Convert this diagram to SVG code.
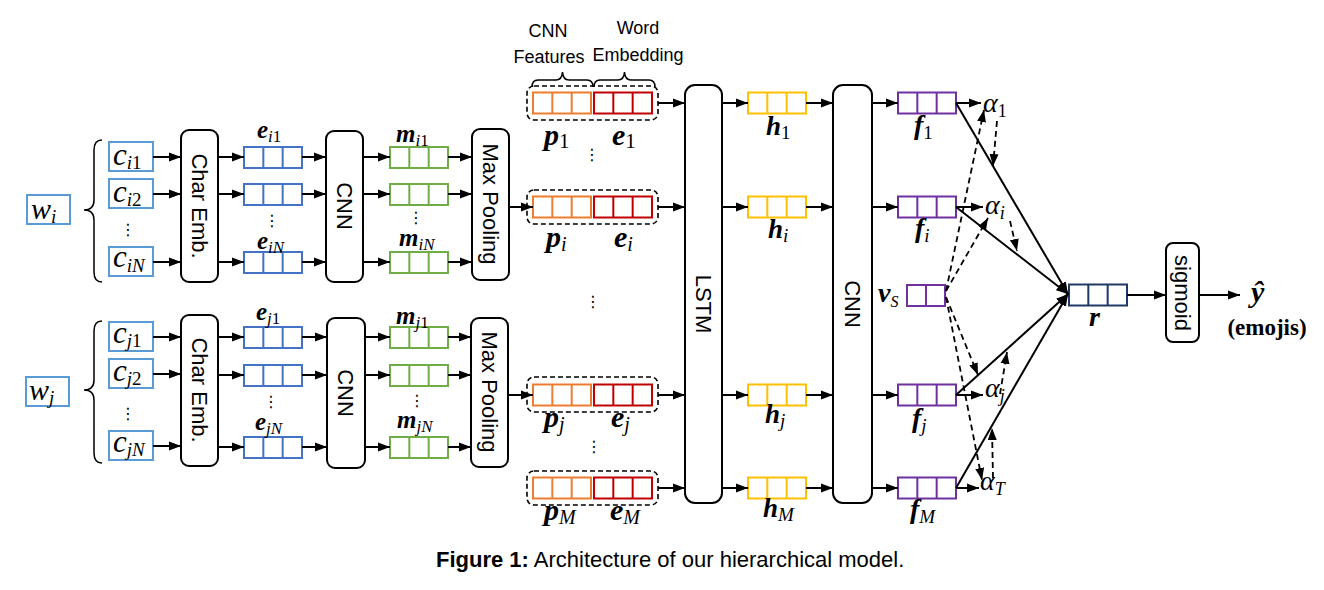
<svg xmlns="http://www.w3.org/2000/svg" width="1324" height="590" viewBox="0 0 1324 590">
<defs>
<style>
.box{fill:#fff;stroke:#000;stroke-width:2}
.cb{fill:#fff;stroke:#5B9BD5;stroke-width:2}
.v{fill:#fff;stroke-width:2}
.blue{stroke:#4472C4}
.green{stroke:#70AD47}
.orange{stroke:#ED7D31}
.red{stroke:#C00000}
.yellow{stroke:#FFC000}
.purple{stroke:#7030A0}
.navy{stroke:#1F3864}
.dbox{fill:none;stroke:#000;stroke-width:1.6;stroke-dasharray:5 3}
.lab{font-family:"Liberation Sans",Arial,sans-serif;font-size:22px;fill:#000;text-anchor:middle}
.cap{font-family:"Liberation Sans",Arial,sans-serif;font-size:22px;fill:#000}
.note{font-family:"Liberation Sans",Arial,sans-serif;font-size:18px;fill:#000;text-anchor:middle}
.mb{font-family:"Liberation Serif","Times New Roman",serif;font-weight:bold;font-style:italic;fill:#000}
.mi{font-family:"Liberation Serif","Times New Roman",serif;font-style:italic;fill:#000}
.sb{font-weight:normal}
.up{font-style:normal}
.c{fill:none;stroke:#000;stroke-width:2;marker-end:url(#ah)}
.d{fill:none;stroke:#000;stroke-width:1.8;stroke-dasharray:6 4;marker-end:url(#ah)}
.dots{font-family:"DejaVu Sans",sans-serif;font-size:16px;text-anchor:middle;fill:#000}
.brace{fill:none;stroke:#000;stroke-width:1.5}
</style>
<marker id="ah" markerWidth="13" markerHeight="10" refX="12" refY="5" orient="auto" markerUnits="userSpaceOnUse">
<path d="M0,0.5 L12,5 L0,9.5 z" fill="#000"/>
</marker>
<g id="vec3"><rect x="0" y="0" width="58" height="21"/><path d="M19.33,0V21M38.67,0V21"/></g>
<g id="vec2"><rect x="0" y="0" width="38" height="21"/><path d="M19,0V21"/></g>
</defs>
<rect x="0" y="0" width="1324" height="590" fill="#fff"/>

<!-- word i group -->
<g id="w_i"><rect class="cb" x="27" y="195" width="43" height="29"/><text class="mi" x="31" y="219" font-size="30">w<tspan font-size="19" dy="4">i</tspan></text></g>
<path class="brace" d="M102,140 Q94,140 94,150 L94,200 Q94,210 84,210 Q94,210 94,220 L94,272 Q94,282 102,282"/>
<g id="c_i1"><rect class="cb" x="109" y="142" width="44" height="29"/><text class="mi" x="113" y="165" font-size="31">c<tspan font-size="19" dy="4">i</tspan><tspan class="up" font-size="19">1</tspan></text></g>
<g id="c_i2"><rect class="cb" x="109" y="179" width="44" height="29"/><text class="mi" x="113" y="202" font-size="31">c<tspan font-size="19" dy="4">i</tspan><tspan class="up" font-size="19">2</tspan></text></g>
<text class="dots" x="128" y="235">⋮</text>
<g id="c_iN"><rect class="cb" x="109" y="247" width="44" height="29"/><text class="mi" x="113" y="267" font-size="31">c<tspan font-size="19" dy="5">iN</tspan></text></g>
<g id="charemb_i"><rect class="box" x="181" y="130" width="37" height="152" rx="8"/><text class="lab" font-size="25" transform="translate(199.5,206) rotate(90)" dy="0.35em">Char Emb.</text></g>
<g id="e_i1"><use href="#vec3" x="244" y="147" class="v blue"/><text class="mb" x="257" y="138" font-size="25">e<tspan class="sb" font-size="17" dy="4">i</tspan><tspan class="sb up" font-size="17">1</tspan></text></g>
<g id="e_i2"><use href="#vec3" x="244" y="184" class="v blue"/></g>
<text class="dots" x="272" y="226">⋮</text>
<g id="e_iN"><use href="#vec3" x="244" y="252" class="v blue"/><text class="mb" x="257" y="249" font-size="25">e<tspan class="sb" font-size="17" dy="4">iN</tspan></text></g>
<g id="cnn_i"><rect class="box" x="326" y="131" width="37" height="151" rx="8"/><text class="lab" transform="translate(344.5,206) rotate(90)" dy="0.35em">CNN</text></g>
<g id="m_i1"><use href="#vec3" x="390" y="147" class="v green"/><text class="mb" x="396" y="142" font-size="25">m<tspan class="sb" font-size="17" dy="4">i</tspan><tspan class="sb up" font-size="17">1</tspan></text></g>
<g id="m_i2"><use href="#vec3" x="390" y="184" class="v green"/></g>
<text class="dots" x="416" y="223">⋮</text>
<g id="m_iN"><use href="#vec3" x="390" y="252" class="v green"/><text class="mb" x="399" y="246" font-size="25">m<tspan class="sb" font-size="17" dy="4">iN</tspan></text></g>
<g id="maxpool_i"><rect class="box" x="472" y="129" width="37" height="151" rx="8"/><text class="lab" transform="translate(490.5,204) rotate(90)" dy="0.35em">Max Pooling</text></g>

<!-- word j group -->
<g id="w_j"><rect class="cb" x="26" y="377" width="43" height="29"/><text class="mi" x="29" y="400" font-size="30">w<tspan font-size="19" dy="4">j</tspan></text></g>
<path class="brace" d="M102,321 Q94,321 94,331 L94,380 Q94,390 84,390 Q94,390 94,400 L94,453 Q94,463 102,463"/>
<g id="c_j1"><rect class="cb" x="109" y="322" width="44" height="29"/><text class="mi" x="113" y="343" font-size="31">c<tspan font-size="19" dy="4">j</tspan><tspan class="up" font-size="19">1</tspan></text></g>
<g id="c_j2"><rect class="cb" x="109" y="359" width="44" height="29"/><text class="mi" x="113" y="381" font-size="31">c<tspan font-size="19" dy="4">j</tspan><tspan class="up" font-size="19">2</tspan></text></g>
<text class="dots" x="128" y="419">⋮</text>
<g id="c_jN"><rect class="cb" x="109" y="431" width="44" height="29"/><text class="mi" x="113" y="452" font-size="31">c<tspan font-size="19" dy="4">jN</tspan></text></g>
<g id="charemb_j"><rect class="box" x="181" y="315" width="37" height="151" rx="8"/><text class="lab" font-size="25" transform="translate(199.5,390) rotate(90)" dy="0.35em">Char Emb.</text></g>
<g id="e_j1"><use href="#vec3" x="244" y="327" class="v blue"/><text class="mb" x="256" y="320" font-size="25">e<tspan class="sb" font-size="17" dy="4">j</tspan><tspan class="sb up" font-size="17">1</tspan></text></g>
<g id="e_j2"><use href="#vec3" x="244" y="365" class="v blue"/></g>
<text class="dots" x="271" y="407">⋮</text>
<g id="e_jN"><use href="#vec3" x="244" y="437" class="v blue"/><text class="mb" x="255" y="430" font-size="25">e<tspan class="sb" font-size="17" dy="4">jN</tspan></text></g>
<g id="cnn_j"><rect class="box" x="327" y="318" width="38" height="150" rx="8"/><text class="lab" transform="translate(346,393) rotate(90)" dy="0.35em">CNN</text></g>
<g id="m_j1"><use href="#vec3" x="390" y="327" class="v green"/><text class="mb" x="396" y="324" font-size="25">m<tspan class="sb" font-size="17" dy="4">j</tspan><tspan class="sb up" font-size="17">1</tspan></text></g>
<g id="m_j2"><use href="#vec3" x="390" y="365" class="v green"/></g>
<text class="dots" x="417" y="406">⋮</text>
<g id="m_jN"><use href="#vec3" x="390" y="437" class="v green"/><text class="mb" x="397" y="428" font-size="25">m<tspan class="sb" font-size="17" dy="4">jN</tspan></text></g>
<g id="maxpool_j"><rect class="box" x="471" y="318" width="37" height="149" rx="8"/><text class="lab" transform="translate(489.5,392) rotate(90)" dy="0.35em">Max Pooling</text></g>

<!-- word representation column -->
<text class="note" x="548" y="37">CNN</text>
<text class="note" x="549" y="63">Features</text>
<text class="note" x="638" y="34">Word</text>
<text class="note" x="638" y="61">Embedding</text>
<path class="brace" d="M532,87 Q532,80 538,80 L556,80 Q562,80 562.5,72 Q563,80 569,80 L587,80 Q593,80 593,87"/>
<path class="brace" d="M594,87 Q594,80 600,80 L618,80 Q624,80 624.5,72 Q625,80 631,80 L649,80 Q655,80 655,87"/>

<g id="word_1"><rect class="dbox" x="527" y="86" width="131" height="34" rx="7"/><use href="#vec3" x="533" y="92.5" class="v orange"/><use href="#vec3" x="594" y="92.5" class="v red"/>
<text class="mb" x="544" y="145" font-size="30">p<tspan class="sb up" font-size="21" dy="3">1</tspan></text>
<text class="mb" x="612" y="145" font-size="30">e<tspan class="sb up" font-size="21" dy="3">1</tspan></text></g>
<text class="dots" x="592" y="160">⋮</text>
<g id="word_i"><rect class="dbox" x="527" y="190" width="131" height="34" rx="7"/><use href="#vec3" x="533" y="196.5" class="v orange"/><use href="#vec3" x="594" y="196.5" class="v red"/>
<text class="mb" x="546" y="247" font-size="30">p<tspan class="sb" font-size="20" dy="4">i</tspan></text>
<text class="mb" x="614" y="247" font-size="30">e<tspan class="sb" font-size="20" dy="4">i</tspan></text></g>
<text class="dots" x="593" y="307">⋮</text>
<g id="word_j"><rect class="dbox" x="527" y="377" width="131" height="35" rx="7"/><use href="#vec3" x="533" y="384.5" class="v orange"/><use href="#vec3" x="594" y="384.5" class="v red"/>
<text class="mb" x="544" y="427" font-size="30">p<tspan class="sb" font-size="20" dy="4">j</tspan></text>
<text class="mb" x="611" y="427" font-size="30">e<tspan class="sb" font-size="20" dy="4">j</tspan></text></g>
<text class="dots" x="594" y="452">⋮</text>
<g id="word_M"><rect class="dbox" x="527" y="471" width="131" height="34" rx="7"/><use href="#vec3" x="533" y="477.5" class="v orange"/><use href="#vec3" x="594" y="477.5" class="v red"/>
<text class="mb" x="544" y="520" font-size="30">p<tspan class="sb" font-size="20" dy="4">M</tspan></text>
<text class="mb" x="610" y="520" font-size="30">e<tspan class="sb" font-size="20" dy="4">M</tspan></text></g>

<g id="lstm"><rect class="box" x="685" y="85" width="37" height="418" rx="10"/><text class="lab" transform="translate(703.5,304) rotate(90)" dy="0.35em">LSTM</text></g>

<g id="h_1"><use href="#vec3" x="748" y="92.5" class="v yellow"/><text class="mb" x="766" y="135" font-size="27">h<tspan class="sb up" font-size="19" dy="4">1</tspan></text></g>
<g id="h_i"><use href="#vec3" x="748" y="196.5" class="v yellow"/><text class="mb" x="768" y="238" font-size="27">h<tspan class="sb" font-size="19" dy="4">i</tspan></text></g>
<g id="h_j"><use href="#vec3" x="748" y="384.5" class="v yellow"/><text class="mb" x="765" y="423" font-size="27">h<tspan class="sb" font-size="19" dy="4">j</tspan></text></g>
<g id="h_M"><use href="#vec3" x="748" y="477.5" class="v yellow"/><text class="mb" x="763" y="517" font-size="27">h<tspan class="sb" font-size="19" dy="4">M</tspan></text></g>

<g id="cnn2"><rect class="box" x="833" y="85" width="39" height="418" rx="10"/><text class="lab" transform="translate(852.5,304) rotate(90)" dy="0.35em">CNN</text></g>

<g id="f_1"><use href="#vec3" x="898" y="92.5" class="v purple"/><text class="mb" x="914" y="134" font-size="28">f<tspan class="sb up" font-size="19" dy="5">1</tspan></text></g>
<g id="f_i"><use href="#vec3" x="898" y="196.5" class="v purple"/><text class="mb" x="915" y="237" font-size="28">f<tspan class="sb" font-size="19" dy="5">i</tspan></text></g>
<g id="v_s"><use href="#vec2" x="907" y="285" class="v purple"/><text class="mb" x="878" y="302" font-size="28">v<tspan class="sb" font-size="16" dy="5">S</tspan></text></g>
<g id="f_j"><use href="#vec3" x="898" y="384.5" class="v purple"/><text class="mb" x="912" y="427" font-size="28">f<tspan class="sb" font-size="19" dy="5">j</tspan></text></g>
<g id="f_M"><use href="#vec3" x="898" y="477.5" class="v purple"/><text class="mb" x="910" y="518" font-size="28">f<tspan class="sb" font-size="19" dy="5">M</tspan></text></g>

<g id="alpha_1"><text class="mi" x="983" y="112" font-size="28">α<tspan class="up" font-size="18" dy="5">1</tspan></text></g>
<g id="alpha_i"><text class="mi" x="985" y="214" font-size="28">α<tspan font-size="18" dy="5">i</tspan></text></g>
<g id="alpha_j"><text class="mi" x="985" y="397" font-size="28">α<tspan font-size="18" dy="5">j</tspan></text></g>
<g id="alpha_T"><text class="mi" x="980" y="490" font-size="28">α<tspan font-size="18" dy="5">T</tspan></text></g>

<g id="r"><use href="#vec3" x="1069" y="284.5" class="v navy"/><text class="mb" x="1089" y="326" font-size="28">r</text></g>
<g id="sigmoid"><rect class="box" x="1166" y="243" width="33" height="99" rx="7"/><text class="lab" transform="translate(1182.5,293) rotate(90)" dy="0.35em">sigmoid</text></g>
<g id="yhat"><text class="mb" x="1251" y="302" font-size="30">ŷ</text><text x="1267" y="335" font-family="Liberation Serif,serif" font-weight="bold" font-size="23" text-anchor="middle">(emojis)</text></g>

<!-- connectors -->
<g id="connectors">
<path class="c" d="M153,157H181"/><path class="c" d="M153,194H181"/><path class="c" d="M153,262H181"/>
<path class="c" d="M218,157H244"/><path class="c" d="M218,194H244"/><path class="c" d="M218,262H244"/>
<path class="c" d="M302,157H326"/><path class="c" d="M302,194H326"/><path class="c" d="M302,262H326"/>
<path class="c" d="M363,157H390"/><path class="c" d="M363,194H390"/><path class="c" d="M363,262H390"/>
<path class="c" d="M448,157H472"/><path class="c" d="M448,194H472"/><path class="c" d="M448,262H472"/>
<path class="c" d="M509,207H533"/>
<path class="c" d="M153,337H181"/><path class="c" d="M153,374H181"/><path class="c" d="M153,446H181"/>
<path class="c" d="M218,337H244"/><path class="c" d="M218,375H244"/><path class="c" d="M218,447H244"/>
<path class="c" d="M302,337H327"/><path class="c" d="M302,375H327"/><path class="c" d="M302,447H327"/>
<path class="c" d="M365,337H390"/><path class="c" d="M365,375H390"/><path class="c" d="M365,447H390"/>
<path class="c" d="M448,337H471"/><path class="c" d="M448,375H471"/><path class="c" d="M448,447H471"/>
<path class="c" d="M508,395H533"/>
<path class="c" d="M658,103H685"/><path class="c" d="M658,207H685"/><path class="c" d="M658,395H685"/><path class="c" d="M658,488H685"/>
<path class="c" d="M722,103H748"/><path class="c" d="M722,207H748"/><path class="c" d="M722,395H748"/><path class="c" d="M722,488H748"/>
<path class="c" d="M806,103H833"/><path class="c" d="M806,207H833"/><path class="c" d="M806,395H833"/><path class="c" d="M806,488H833"/>
<path class="c" d="M872,103H898"/><path class="c" d="M872,207H898"/><path class="c" d="M872,395H898"/><path class="c" d="M872,488H898"/>
<path class="c" d="M956,103H981"/><path class="c" d="M956,207H983"/><path class="c" d="M956,395H983"/><path class="c" d="M956,488H979"/>
<path class="c" d="M956,103L1068,294"/>
<path class="c" d="M956,207L1068,294"/>
<path class="c" d="M956,395L1068,294"/>
<path class="c" d="M956,488L1068,294"/>
<path class="c" d="M1127,295H1166"/>
<path class="c" d="M1199,295H1240"/>
<path class="d" d="M946,291L984,110"/>
<path class="d" d="M946,291L988,218"/>
<path class="d" d="M997,121L993,166"/>
<path class="d" d="M1010,221L1017,251"/>
<path class="d" d="M946,297L978,375"/>
<path class="d" d="M946,297L982,480"/>
<path class="d" d="M1000,394L1007,352"/>
<path class="d" d="M993,478L992,428"/>
</g>

<text class="cap" x="436" y="567"><tspan font-weight="bold">Figure 1:</tspan> Architecture of our hierarchical model.</text>
</svg>
